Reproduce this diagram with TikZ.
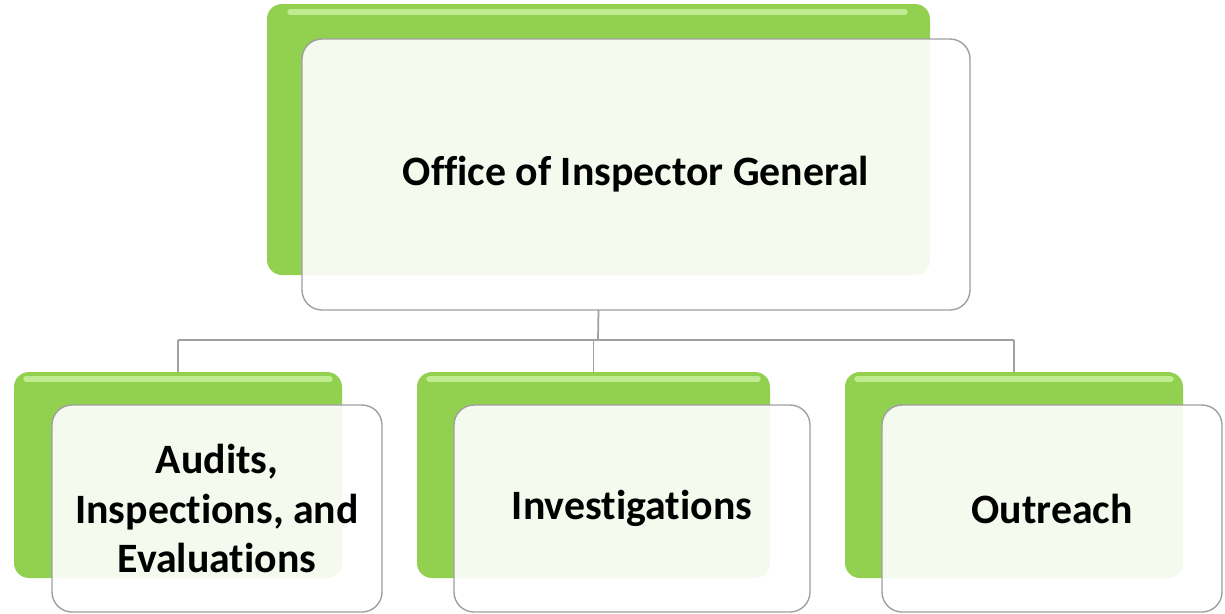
\documentclass[tikz,border=0pt]{standalone}
\usepackage{fontspec}
\setmainfont{Carlito}[Ligatures={NoCommon}]
\usepackage{xcolor}
\definecolor{leafgreen}{HTML}{92D050}
\definecolor{sheen}{HTML}{CDF2A0}
\definecolor{wire}{HTML}{A0A0A0}

\begin{document}
\begin{tikzpicture}[x=0.02cm, y=-0.02cm,
		greenbox/.style 2 args={draw=none, fill=leafgreen, rounded corners=15*0.02cm,
				minimum width=#1*0.02cm, minimum height=#2*0.02cm, inner sep=0pt, outer sep=0pt},
		paperbox/.style 2 args={draw=wire, line width=0.8pt, fill=white, fill opacity=0.9,
				text opacity=1, rounded corners=20*0.02cm, align=center,
				font=\bfseries\fontsize{23.8}{28}\selectfont,
				minimum width=#1*0.02cm, minimum height=#2*0.02cm, inner sep=0pt, outer sep=0pt},
		conn/.style={draw=wire, line width=1pt}]
		\useasboundingbox (0,0) rectangle (1225,613);
		% top unit
		\node[greenbox={663}{271}] (oigg) at (598.5,139.5) {};
		\draw[sheen, line width=3pt, line cap=round, opacity=0.8] (290,12) -- (905,12);
		\node[paperbox={668}{271}] (oig) at (636,174.5) {Office of Inspector General};
		% three units below
		\foreach \n/\gx/\gw/\wx/\ww/\txt in {aud/178/328/217/330/{Audits,\\Inspections, and\\Evaluations},
				inv/593.5/353/632/356/Investigations,
				out/1014/338/1052/340/Outreach}
			{
				\node[greenbox={\gw}{206}] (\n g) at (\gx,475) {};
				\draw[sheen, line width=3pt, line cap=round, opacity=0.8]
				([xshift=12*0.02cm, yshift=-7*0.02cm]\n g.north west) -- ([xshift=-12*0.02cm, yshift=-7*0.02cm]\n g.north east);
				\node[paperbox={\ww}{207}] (\n) at (\wx,508.5) {\txt};
			}
		% connectors
		\coordinate (bus) at (598,340);
		\draw[conn] (oig.south -| oigg.north) -- (bus);
		\draw[conn] (bus -| audg.north) -- (bus -| outg.north);
		\foreach \n in {aud, inv, out}
			{
				\draw[conn] (bus -| \n g.north) -- (\n g.north);
			}
	\end{tikzpicture}
\end{document}
